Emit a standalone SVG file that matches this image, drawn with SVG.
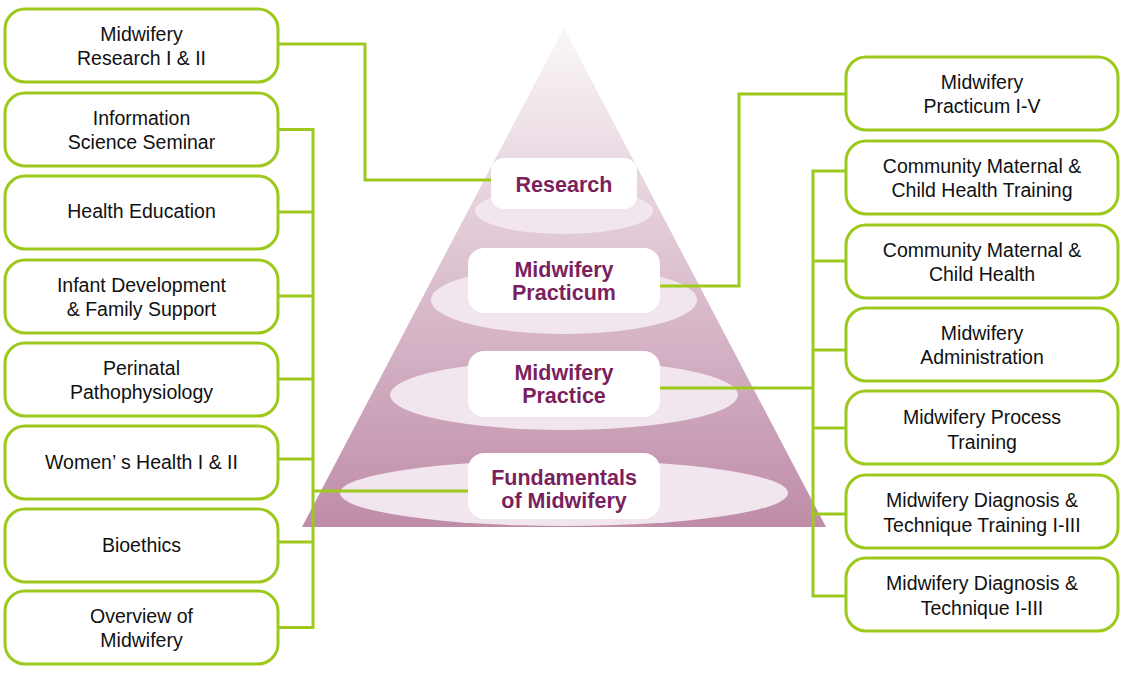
<svg xmlns="http://www.w3.org/2000/svg" width="1127" height="673" viewBox="0 0 1127 673">
<defs>
<linearGradient id="pg" x1="0" y1="28" x2="0" y2="527" gradientUnits="userSpaceOnUse">
<stop offset="0" stop-color="#faf7f9"/>
<stop offset="0.5" stop-color="#dcc0cf"/>
<stop offset="1" stop-color="#bf8ca8"/>
</linearGradient>
</defs>
<style>
.box{fill:#fff;stroke:#9dc91c;stroke-width:3}
.t{font-family:"Liberation Sans",Arial,sans-serif;font-size:19.5px;fill:#111;text-anchor:middle}
.lbl{fill:#fff}
.lt{font-family:"Liberation Sans",Arial,sans-serif;font-size:21.5px;font-weight:bold;fill:#7b1f5d;text-anchor:middle}
.el{fill:#f1e6ed}
.c{fill:none;stroke:#9dc91c;stroke-width:3}
</style>
<g id="pyramid">
<polygon points="564,28 826,527 302,527" fill="url(#pg)"/>
<ellipse class="el" cx="564" cy="211" rx="89" ry="23"/>
<ellipse class="el" cx="564" cy="300" rx="133" ry="34"/>
<ellipse class="el" cx="564" cy="395" rx="174" ry="35"/>
<ellipse class="el" cx="564" cy="493" rx="224" ry="33"/>
</g>
<g id="connectors">
<polyline class="c" points="278,44 365,44 365,180 491,180"/>
<polyline class="c" points="278,129.5 313,129.5 313,627.5 278,627.5"/>
<line class="c" x1="278" y1="212" x2="313" y2="212"/>
<line class="c" x1="278" y1="296" x2="313" y2="296"/>
<line class="c" x1="278" y1="379" x2="313" y2="379"/>
<line class="c" x1="278" y1="459" x2="313" y2="459"/>
<line class="c" x1="278" y1="542" x2="313" y2="542"/>
<line class="c" x1="313" y1="491" x2="468" y2="491"/>
<polyline class="c" points="660,286 739,286 739,94 846,94"/>
<polyline class="c" points="846,171 813,171 813,596 846,596"/>
<line class="c" x1="660" y1="388" x2="813" y2="388"/>
<line class="c" x1="813" y1="261" x2="846" y2="261"/>
<line class="c" x1="813" y1="350" x2="846" y2="350"/>
<line class="c" x1="813" y1="428" x2="846" y2="428"/>
<line class="c" x1="813" y1="514" x2="846" y2="514"/>
</g>
<g id="lbl-research"><rect class="lbl" x="491" y="158" width="146" height="51" rx="13"/><text class="lt" x="564" y="192">Research</text></g>
<g id="lbl-practicum"><rect class="lbl" x="468" y="248" width="192" height="65" rx="16"/><text class="lt" x="564" y="277">Midwifery</text><text class="lt" x="564" y="300">Practicum</text></g>
<g id="lbl-practice"><rect class="lbl" x="468" y="351" width="192" height="66" rx="16"/><text class="lt" x="564" y="380">Midwifery</text><text class="lt" x="564" y="403">Practice</text></g>
<g id="lbl-fundamentals"><rect class="lbl" x="468" y="453" width="192" height="66" rx="16"/><text class="lt" x="564" y="485">Fundamentals</text><text class="lt" x="564" y="508">of Midwifery</text></g>
<g id="L1"><rect class="box" x="5" y="9" width="273" height="73" rx="20"/><text class="t" x="141.5" y="41">Midwifery</text><text class="t" x="141.5" y="65">Research I &amp; II</text></g>
<g id="L2"><rect class="box" x="5" y="93" width="273" height="73" rx="20"/><text class="t" x="141.5" y="125">Information</text><text class="t" x="141.5" y="149">Science Seminar</text></g>
<g id="L3"><rect class="box" x="5" y="176" width="273" height="73" rx="20"/><text class="t" x="141.5" y="218">Health Education</text></g>
<g id="L4"><rect class="box" x="5" y="260" width="273" height="73" rx="20"/><text class="t" x="141.5" y="292">Infant Development</text><text class="t" x="141.5" y="316">&amp; Family Support</text></g>
<g id="L5"><rect class="box" x="5" y="343" width="273" height="73" rx="20"/><text class="t" x="141.5" y="375">Perinatal</text><text class="t" x="141.5" y="399">Pathophysiology</text></g>
<g id="L6"><rect class="box" x="5" y="426" width="273" height="73" rx="20"/><text class="t" x="141.5" y="469">Women’ s Health I &amp; II</text></g>
<g id="L7"><rect class="box" x="5" y="509" width="273" height="73" rx="20"/><text class="t" x="141.5" y="552">Bioethics</text></g>
<g id="L8"><rect class="box" x="5" y="591" width="273" height="73" rx="20"/><text class="t" x="141.5" y="623">Overview of</text><text class="t" x="141.5" y="647">Midwifery</text></g>
<g id="R1"><rect class="box" x="846" y="57" width="272" height="73" rx="20"/><text class="t" x="982" y="89">Midwifery</text><text class="t" x="982" y="113">Practicum I-V</text></g>
<g id="R2"><rect class="box" x="846" y="141" width="272" height="73" rx="20"/><text class="t" x="982" y="173">Community Maternal &amp;</text><text class="t" x="982" y="197">Child Health Training</text></g>
<g id="R3"><rect class="box" x="846" y="225" width="272" height="73" rx="20"/><text class="t" x="982" y="257">Community Maternal &amp;</text><text class="t" x="982" y="281">Child Health</text></g>
<g id="R4"><rect class="box" x="846" y="308" width="272" height="73" rx="20"/><text class="t" x="982" y="340">Midwifery</text><text class="t" x="982" y="364">Administration</text></g>
<g id="R5"><rect class="box" x="846" y="391" width="272" height="73" rx="20"/><text class="t" x="982" y="424">Midwifery Process</text><text class="t" x="982" y="449">Training</text></g>
<g id="R6"><rect class="box" x="846" y="475" width="272" height="73" rx="20"/><text class="t" x="982" y="507">Midwifery Diagnosis &amp;</text><text class="t" x="982" y="532">Technique Training I-III</text></g>
<g id="R7"><rect class="box" x="846" y="558" width="272" height="73" rx="20"/><text class="t" x="982" y="590">Midwifery Diagnosis &amp;</text><text class="t" x="982" y="615">Technique I-III</text></g>
</svg>
